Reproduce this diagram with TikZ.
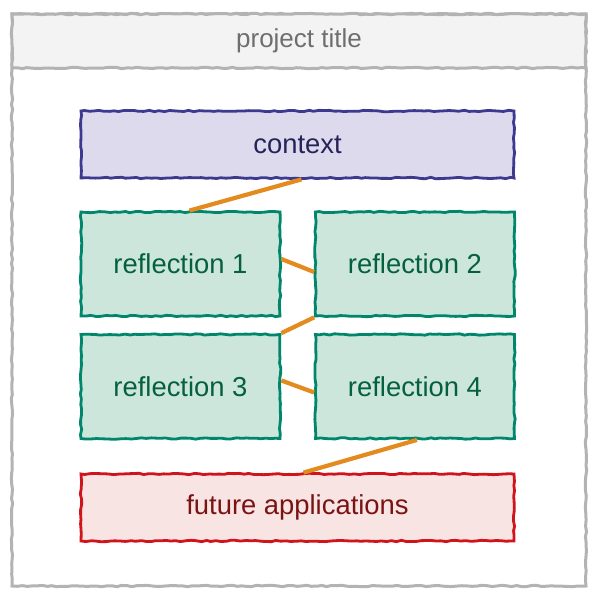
\documentclass[tikz,border=0pt]{standalone}
\usepackage{fontspec}
\setmainfont{Liberation Sans}
\usepackage{tikz}
\usetikzlibrary{shapes,decorations.pathmorphing}
\definecolor{framegray}{HTML}{B3B3B3}
\definecolor{titlefill}{HTML}{F3F3F3}
\definecolor{titletext}{HTML}{6E6E6E}
\definecolor{ctxdraw}{HTML}{3C3A8E}
\definecolor{ctxfill}{HTML}{DEDAEE}
\definecolor{ctxtext}{HTML}{262358}
\definecolor{refdraw}{HTML}{00866A}
\definecolor{reffill}{HTML}{CDE6DC}
\definecolor{reftext}{HTML}{05603F}
\definecolor{futdraw}{HTML}{D0141C}
\definecolor{futfill}{HTML}{F9E4E4}
\definecolor{futtext}{HTML}{7A1313}
\definecolor{linkorange}{HTML}{E38B1F}
\tikzstyle{sketchy} = [decorate,decoration={random steps,segment length=2.5pt,amplitude=0.35pt}]
\tikzstyle{link} = [draw=linkorange,line width=2.1pt]
\tikzstyle{widebox} = [sketchy,draw,rectangle,align=center,line width=1.4pt,
    minimum width=216.5pt,minimum height=33.5pt,font=\fontsize{13.7}{16}\selectfont]
\tikzstyle{refbox} = [sketchy,draw=refdraw,fill=reffill,text=reftext,rectangle,align=center,
    line width=1.4pt,minimum width=99.5pt,minimum height=52pt,font=\fontsize{13.7}{16}\selectfont]

\begin{document}
\begin{tikzpicture}[x=0.5pt,y=-0.5pt]
    \useasboundingbox (0,0) rectangle (600,598);
    % frame and title bar
    \draw[sketchy,draw=framegray,fill=white,line width=1.5pt] (12,14) rectangle (586,586);
    \draw[sketchy,draw=framegray,fill=titlefill,line width=1.5pt] (12,14) rectangle (586,68);
    \node[text=titletext,font=\fontsize{13}{16}\selectfont] (title) at (299,41) {project title};

    \node[widebox,draw=ctxdraw,fill=ctxfill,text=ctxtext] (context) at (297.5,144.5) {context};
    \node[refbox] (ref1) at (180.5,264) {reflection 1};
    \node[refbox] (ref2) at (415,264) {reflection 2};
    \node[refbox] (ref3) at (180.5,386.5) {reflection 3};
    \node[refbox] (ref4) at (415,386.5) {reflection 4};
    \node[widebox,draw=futdraw,fill=futfill,text=futtext] (future) at (297.5,507.5) {future applications};

    \draw[link] ([xshift=2pt]context.south) -- ([xshift=4.5pt]ref1.north);
    \draw[link] ([yshift=2.5pt]ref1.east) -- ([yshift=-4pt]ref2.west);
    \draw[link] (ref2.south west) -- (ref3.north east);
    \draw[link] ([yshift=3pt]ref3.east) -- ([yshift=-3pt]ref4.west);
    \draw[link] ([xshift=1pt]ref4.south) -- ([xshift=3pt]future.north);
\end{tikzpicture}
\end{document}
